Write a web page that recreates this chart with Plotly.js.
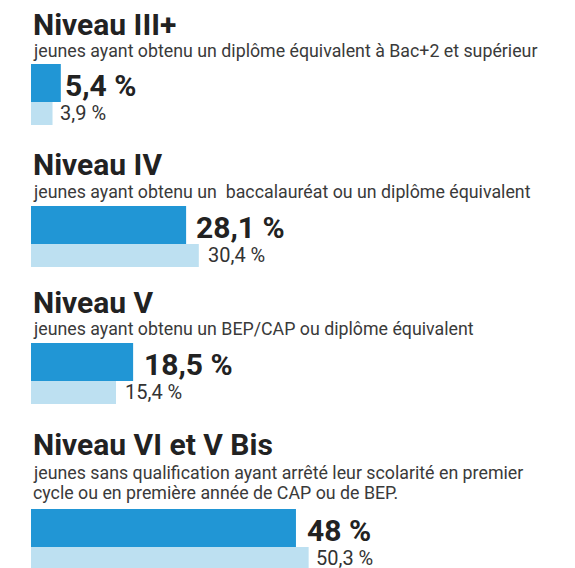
<!DOCTYPE html>
<html><head><meta charset="utf-8">
<script src="https://cdn.plot.ly/plotly-3.0.1.min.js"></script>
<style>html,body{margin:0;padding:0;background:#fff;}</style>
</head><body><div id="chart" style="width:575px;height:568px;"></div>
<script>
// ---- data ----
const titles = ["Niveau III+", "Niveau IV", "Niveau V", "Niveau VI et V Bis"];
const subtitles = [
  ["jeunes ayant obtenu un diplôme équivalent à Bac+2 et supérieur"],
  ["jeunes ayant obtenu un  baccalauréat ou un diplôme équivalent"],
  ["jeunes ayant obtenu un BEP/CAP ou diplôme équivalent"],
  ["jeunes sans qualification ayant arrêté leur scolarité en premier",
   "cycle ou en première année de CAP ou de BEP."]
];
const mainValues = [5.4, 28.1, 18.5, 48];
const compareValues = [3.9, 30.4, 15.4, 50.3];
const mainLabels = ["5,4 %", "28,1 %", "18,5 %", "48 %"];
const compareLabels = ["3,9 %", "30,4 %", "15,4 %", "50,3 %"];

// ---- layout (pixel positions, top-down) ----
const W = 575, H = 568, X0 = 31, PX_PER_PCT = 5.52;
const barTop = [64, 206, 343, 509];
const DARK_H = 38, LIGHT_H = 23;
const titleY = [24, 164, 302, 444];
const subY = [50, 191, 328, 472];
const SUB_LINE = 20;
const darkShift = [2, 8, 9, 9];
const lightShift = [5, 7, 7, 5];

const darkY = barTop.map(t => t + DARK_H / 2);
const lightY = barTop.map(t => t + DARK_H + LIGHT_H / 2);

const traces = [
  {type: 'bar', orientation: 'h', x: mainValues, y: darkY, width: DARK_H,
   marker: {color: '#2196D5', line: {width: 0}}, hoverinfo: 'skip'},
  {type: 'bar', orientation: 'h', x: compareValues, y: lightY, width: LIGHT_H,
   marker: {color: '#BDE0F1', line: {width: 0}}, hoverinfo: 'skip'}
];

const ann = [];
const FONT = 'Roboto, sans-serif';
titles.forEach((t, i) => {
  ann.push({xref: 'x', yref: 'y', x: 0, y: titleY[i], xanchor: 'left', yanchor: 'middle',
    text: '<b>' + t + '</b>', showarrow: false, align: 'left',
    font: {family: FONT, size: 30, color: '#222222'}});
  subtitles[i].forEach((line, j) => {
    ann.push({xref: 'x', yref: 'y', x: 0, y: subY[i] + j * SUB_LINE, xanchor: 'left', yanchor: 'middle',
      text: line, showarrow: false, align: 'left',
      font: {family: FONT, size: 17.8, color: '#3a3a3a'}});
  });
  ann.push({xref: 'x', yref: 'y', x: mainValues[i], y: darkY[i] + 2, xanchor: 'left', yanchor: 'middle',
    xshift: darkShift[i], text: '<b>' + mainLabels[i] + '</b>', showarrow: false,
    font: {family: FONT, size: 30, color: '#222222'}});
  ann.push({xref: 'x', yref: 'y', x: compareValues[i], y: lightY[i] - 1, xanchor: 'left', yanchor: 'middle',
    xshift: lightShift[i], text: compareLabels[i], showarrow: false,
    font: {family: FONT, size: 20, color: '#333333'}});
});

const layout = {
  width: W, height: H,
  margin: {l: 0, r: 0, t: 0, b: 0, pad: 0},
  paper_bgcolor: '#ffffff', plot_bgcolor: '#ffffff',
  showlegend: false, barmode: 'overlay',
  xaxis: {range: [-X0 / PX_PER_PCT, (W - X0) / PX_PER_PCT], visible: false, fixedrange: true},
  yaxis: {range: [H, 0], visible: false, fixedrange: true},
  annotations: ann
};
Plotly.newPlot('chart', traces, layout, {displayModeBar: false, staticPlot: true});
</script></body></html>
